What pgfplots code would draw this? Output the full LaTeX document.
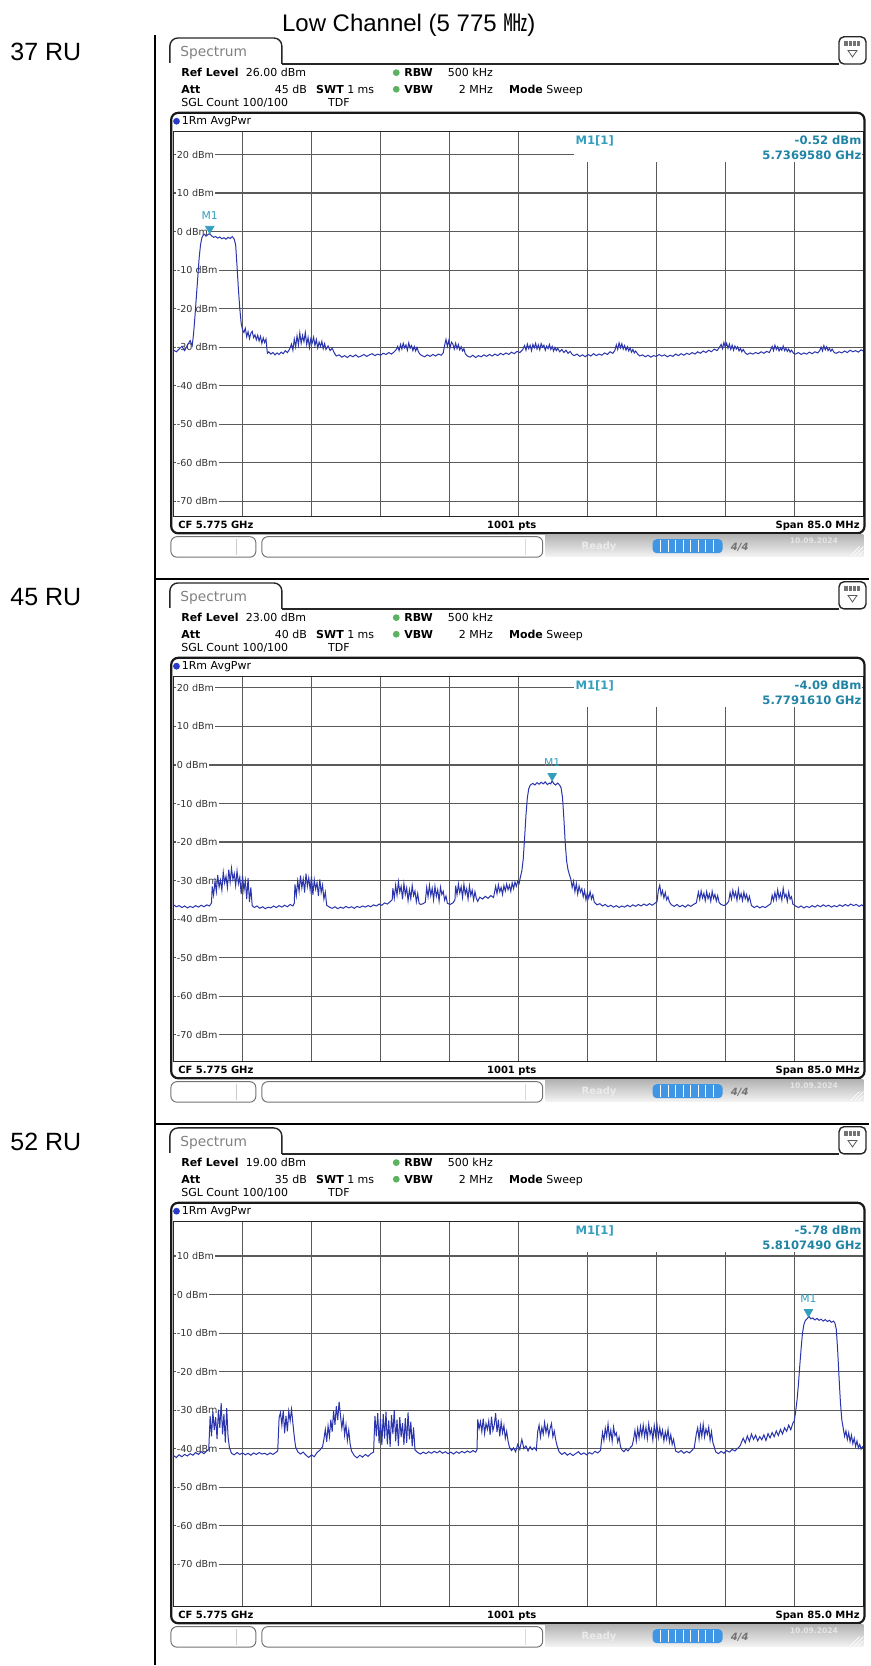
\documentclass[border=0pt]{standalone}
\usepackage{fontspec}
\setmainfont{DejaVu Sans}
\newfontfamily\arial{Liberation Sans}
\newfontfamily\cjk{Noto Sans CJK KR}
\usepackage{pgfplots}
\pgfplotsset{compat=1.18}

\definecolor{trc}{RGB}{42,52,172}
\definecolor{mk}{RGB}{52,158,190}
\definecolor{mkd}{RGB}{32,132,165}
\definecolor{grd}{RGB}{90,90,90}
\definecolor{grn}{RGB}{92,178,96}
\definecolor{pbar}{RGB}{62,150,228}
\definecolor{dotb}{RGB}{40,58,200}

\newcommand\fh{\fontsize{5.5}{6}\selectfont}
\newcommand\fb{\fontsize{5}{6}\selectfont\bfseries}
\newcommand\fm{\fontsize{5.8}{6}\selectfont\bfseries}

\pgfplotsset{
  spec/.style={
    set layers,
    scale only axis, width=345pt, height=192.8pt,
    anchor=south west,
    xmin=0, xmax=1000, xtick={100,200,...,900}, xticklabels={},
    major tick length=0pt,
    grid=major, grid style={grd, line width=0.55pt},
    axis line style={black!85, line width=0.6pt},
    yticklabel style={anchor=west, xshift=0.9pt, fill=white, inner sep=0.5pt,
      font=\fontsize{4.8}{5}\selectfont, text=black!80},
    clip mode=individual,
  },
  trace/.style={trc, line width=0.5pt, no marks},
  mkr/.style={only marks, mark=triangle*, mark size=2.4pt,
    mark options={yshift=2.4pt, rotate=180, fill=mk, draw=mk},
    nodes near coords={M1},
    every node near coord/.style={font=\fontsize{5.4}{5.4}\selectfont, text=mk,
      anchor=south, inner sep=0pt, yshift=4.6pt}},
}

\tikzset{
  hl/.style={anchor=base west, inner sep=0pt, font=\fh},
  hr/.style={anchor=base east, inner sep=0pt, font=\fh},
}

% frame, header and status bar of one analyser screen; #1 = vertical offset in px
\newcommand\decor[5]{%
\begin{scope}[shift={(0,#1)}]
  \draw[black!85, line width=0.7pt, rounded corners=4] (170,63) -- (170,38) -- (282,38) -- (282,64);
  \draw[black!85, line width=0.7pt] (282,64) -- (839.5,64);
  \node[anchor=base west, inner sep=0pt, text=black!50, font=\fontsize{6.9}{7}\selectfont] at (180,56.3) {Spectrum};
  \draw[black!85, line width=0.7pt, rounded corners=2.5] (839.5,36.8) rectangle (866.5,64);
  \fill[black!55] (845,41.5) rectangle (861,46.5);
  \draw[white, line width=0.35pt] (849,41.5) -- (849,46.5) (853,41.5) -- (853,46.5) (857,41.5) -- (857,46.5);
  \draw[black!65, line width=0.4pt] (848.5,50.5) -- (857.5,50.5) -- (853,57) -- cycle;
  \node[hl] at (181,76.5) {\bfseries Ref Level};
  \node[hr] at (306.7,76.5) {#2 dBm};
  \node[hl] at (181,93.3) {\bfseries Att};
  \node[hr] at (307.5,93.3) {#3 dB};
  \node[hl] at (316,93.3) {{\bfseries SWT} 1 ms};
  \fill[grn] (396.5,72.7) circle (3.4);
  \fill[grn] (396.5,89.3) circle (3.4);
  \node[hl] at (404.3,76.5) {\bfseries RBW};
  \node[hr] at (493.5,76.5) {500 kHz};
  \node[hl] at (404.3,93.3) {\bfseries VBW};
  \node[hr] at (493.5,93.3) {2 MHz};
  \node[hl] at (509,93.3) {{\bfseries Mode} Sweep};
  \node[hl] at (181,106.7) {SGL Count 100/100};
  \node[hl] at (328,106.7) {TDF};
  \draw[black!90, line width=1.1pt, rounded corners=3.5] (171.3,112.9) rectangle (865,533.6);
  \fill[dotb] (176.6,121.3) circle (3.4);
  \node[hl] at (181.5,125) {1Rm AvgPwr};
  \node[hl, font=\fb] at (178,529) {CF 5.775 GHz};
  \node[anchor=base, inner sep=0pt, font=\fb] at (512,529) {1001 pts};
  \node[hr, font=\fb] at (860.5,529) {Span 85.0 MHz};
  % status bar
  \draw[black!55, line width=0.5pt, rounded corners=3] (171,537) rectangle (256,557.5);
  \draw[black!20, line width=0.4pt] (237,539.5) -- (237,555);
  \draw[black!55, line width=0.5pt, rounded corners=3] (262,537) rectangle (543,557.5);
  \draw[black!15, line width=0.4pt] (526,539.5) -- (526,555);
  \shade[top color=black!30, bottom color=black!5] (546,534.8) rectangle (864,556.5);
  \node[hl, font=\fb, text=white!92!black] at (581.5,550) {Ready};
  \fill[pbar, rounded corners=2] (653,539.5) rectangle (723,553.5);
  \foreach \k in {661,668.5,676,683.5,691,698.5,706,713.5}
    \draw[white, line width=0.45pt] (\k,540.5) -- (\k,552.5);
  \node[hl, font=\fontsize{5}{5}\selectfont\bfseries\itshape, text=black!55] at (731,550.5) {4/4};
  \node[hl, font=\fontsize{3.8}{4}\selectfont\bfseries, text=white!90!black] at (790,543.5) {10.09.2024};
  \draw[white, line width=0.4pt] (855,556) -- (864,547) (859,556) -- (864,551) (851,556) -- (860,547);
  % marker readout
  \fill[white] (574.6,132.3) rectangle (863,161.7);
  \node[hl, font=\fm, text=mk] at (575.5,144.3) {M1[1]};
  \node[hr, font=\fm, text=mkd] at (862.3,144.3) {#4 dBm};
  \node[hr, font=\fm, text=mkd] at (862.3,159.3) {#5 GHz};
\end{scope}}

\begin{document}
\begin{tikzpicture}[x=0.5pt, y=-0.5pt]
\path (0,0) rectangle (870,1666);

\node[anchor=base, inner sep=0pt, font=\arial\fontsize{12}{14}\selectfont] at (409,31.5) {Low Channel (5 775 {\cjk ㎒})};
\draw[black, line width=1pt] (155.5,35) -- (155.5,1666);
\draw[black, line width=1pt] (155.5,579.3) -- (870,579.3);
\draw[black, line width=1pt] (155.5,1124.6) -- (870,1124.6);
\node[anchor=base west, inner sep=0pt, font=\arial\fontsize{12.5}{14}\selectfont] at (10,60.7) {37 RU};
\node[anchor=base west, inner sep=0pt, font=\arial\fontsize{12.5}{14}\selectfont] at (10,606) {45 RU};
\node[anchor=base west, inner sep=0pt, font=\arial\fontsize{12.5}{14}\selectfont] at (10,1151.3) {52 RU};

% ---------- 37 RU ----------
\begin{axis}[spec, at={(86.85pt,-258.5pt)}, ymin=-74, ymax=26,
  ytick={-70,-60,...,20},
  yticklabels={-70 dBm,-60 dBm,-50 dBm,-40 dBm,-30 dBm,-20 dBm,-10 dBm,0 dBm,10 dBm,20 dBm}]
\addplot[trace] coordinates {
(0,-30.8) (4,-31.2) (8,-30.5) (12,-29.8) (16,-30.9) (20,-29.5) (24,-28.3) (27,-29.6)
(29,-26.5) (31,-22) (33,-17) (35,-12) (37,-7) (39,-3.5) (41,-1.6) (43,-0.9) (45,-0.7)
(47,-1.2) (50,-0.8) (52,-0.52) (55,-1.1) (58,-1.5) (61,-1.3) (64,-1.7) (67,-1.4) (70,-1.9)
(73,-1.6) (76,-2.0) (79,-1.5) (82,-1.8) (85,-1.3) (88,-2.0)
(90,-3.5) (92,-9) (94,-15) (96,-20) (98,-23.8) (100,-25.5)
(102,-26.2) (104,-25.1) (106,-27.3) (108,-26.0) (110,-27.8) (112,-26.4) (114,-25.9) (116,-27.5)
(118,-26.8) (120,-28.1) (122,-26.9) (124,-28.4) (126,-27.2) (128,-29.0) (130,-27.6) (132,-28.8)
(134,-27.9) (136,-31.6) (138,-31.2) (141,-31.8) (144,-31.4) (147,-32.0) (150,-31.5) (153,-31.9)
(156,-31.3) (159,-31.7) (162,-30.9) (165,-31.4) (168,-30.6)
(171,-29.2) (173,-30.8) (175,-27.9) (177,-29.9) (179,-27.1) (181,-29.4) (183,-26.3) (185,-29.0)
(187,-27.0) (189,-28.6) (191,-26.2) (193,-29.3) (195,-27.5) (197,-30.1) (199,-27.8) (201,-28.9)
(203,-27.4) (205,-29.6) (207,-28.0) (209,-30.2) (211,-28.7) (213,-29.8) (215,-28.5) (217,-30.4)
(219,-29.1) (221,-30.6) (224,-29.7) (227,-30.9) (230,-30.3) (233,-31.5)
(236,-32.3) (240,-32.0) (244,-32.6) (248,-32.2) (252,-32.7) (256,-32.1) (260,-32.5) (264,-32.0)
(268,-32.6) (272,-32.3) (276,-31.9) (280,-32.4) (284,-32.0) (288,-31.7) (292,-32.2) (296,-31.8)
(300,-32.1) (304,-31.6) (308,-31.9) (312,-31.4) (316,-31.8) (320,-31.2) (323,-30.6)
(325,-29.8) (327,-30.9) (329,-29.3) (331,-30.5) (333,-29.0) (335,-30.2) (337,-29.4) (339,-30.8)
(341,-28.9) (343,-30.3) (345,-29.6) (347,-30.9) (349,-29.8) (351,-31.0) (353,-30.1) (355,-31.2)
(357,-31.8) (360,-32.2) (364,-32.5) (368,-32.0) (372,-32.4) (376,-31.9) (380,-32.3) (384,-31.8)
(388,-32.1) (391,-31.5)
(393,-29.5) (395,-28.0) (397,-29.8) (399,-28.3) (401,-30.1) (403,-28.7) (405,-29.2) (407,-30.5)
(409,-29.0) (411,-30.4) (413,-29.3) (415,-30.7) (417,-29.9) (419,-31.0) (421,-30.4) (423,-31.7)
(426,-32.3) (430,-32.6) (434,-32.1) (438,-32.7) (442,-32.2) (446,-32.5) (450,-32.0) (454,-32.4)
(458,-31.9) (462,-32.3) (466,-31.8) (470,-32.2) (474,-31.6) (478,-32.0) (482,-31.5) (486,-31.9)
(490,-31.3) (494,-31.7) (498,-31.1) (502,-31.4) (506,-30.7)
(509,-29.6) (511,-30.8) (513,-29.2) (515,-30.4) (517,-29.5) (519,-30.9) (521,-29.3) (523,-30.2)
(525,-29.0) (527,-30.5) (529,-29.4) (531,-30.7) (533,-29.1) (535,-30.0) (537,-29.5) (539,-30.8)
(541,-29.7) (543,-30.4) (545,-29.3) (547,-30.6) (549,-29.8) (551,-31.0) (553,-30.1) (555,-30.9)
(557,-30.3) (560,-31.2) (563,-30.6) (566,-31.4) (569,-30.8) (572,-31.6) (575,-31.1) (578,-31.9)
(581,-32.2) (585,-31.8) (589,-32.4) (593,-32.0) (597,-32.5) (601,-31.9) (605,-32.3) (609,-31.7)
(613,-32.2) (617,-31.8) (621,-32.1) (625,-31.5) (629,-31.9) (633,-31.2) (637,-31.6) (640,-30.8)
(642,-29.4) (644,-30.6) (646,-28.9) (648,-30.2) (650,-29.1) (652,-30.5) (654,-29.6) (656,-30.8)
(658,-29.9) (660,-31.0) (662,-30.2) (664,-31.3) (666,-30.6) (668,-31.5) (670,-31.0) (673,-31.8)
(676,-32.3) (680,-32.0) (684,-32.5) (688,-32.1) (692,-32.6) (696,-32.2) (700,-32.4) (704,-31.9)
(708,-32.3) (712,-32.0) (716,-32.5) (720,-32.1) (724,-32.4) (728,-31.8) (732,-32.2) (736,-31.7)
(740,-32.1) (744,-31.6) (748,-31.9) (752,-31.4) (756,-31.8) (760,-31.2) (764,-31.6) (768,-31.0)
(772,-31.4) (776,-30.8) (780,-31.2) (784,-30.5) (788,-30.9) (791,-30.2)
(794,-29.3) (796,-30.4) (798,-28.8) (800,-30.0) (802,-29.0) (804,-30.3) (806,-29.2) (808,-30.6)
(810,-29.5) (812,-30.8) (814,-29.7) (816,-30.5) (818,-29.9) (820,-31.0) (822,-30.3) (824,-31.2)
(826,-30.6) (829,-31.5) (832,-31.9) (836,-31.5) (840,-31.8) (844,-31.4) (848,-31.7) (852,-31.2)
(856,-31.6) (860,-31.1) (864,-31.4) (866,-30.6)
(868,-29.8) (870,-30.9) (872,-29.5) (874,-30.6) (876,-29.9) (878,-31.0) (880,-30.2) (882,-30.8)
(884,-29.7) (886,-30.9) (888,-30.3) (890,-31.1) (892,-30.5) (894,-31.3) (896,-30.8) (899,-31.6)
(902,-31.8) (906,-31.4) (910,-31.9) (914,-31.5) (918,-31.8) (922,-31.3) (926,-31.7) (930,-31.2)
(934,-31.5) (937,-30.9) (939,-30.0) (941,-31.0) (943,-29.6) (945,-30.7) (947,-29.9) (949,-30.9)
(951,-30.3) (953,-31.1) (955,-30.5) (958,-31.4) (961,-31.6) (965,-31.2) (969,-31.5) (973,-31.0)
(977,-31.4) (981,-30.8) (985,-31.2) (989,-30.9) (993,-31.3) (997,-30.7) (1000,-31.0)
};
\addplot[mkr] coordinates {(52.4,-0.52)};
\end{axis}
\decor{0}{26.00}{45}{-0.52}{5.7369580}

% ---------- 45 RU ----------
\begin{axis}[spec, at={(86.85pt,-531.15pt)}, ymin=-77, ymax=23,
  ytick={-70,-60,...,20},
  yticklabels={-70 dBm,-60 dBm,-50 dBm,-40 dBm,-30 dBm,-20 dBm,-10 dBm,0 dBm,10 dBm,20 dBm}]
\addplot[trace] coordinates {
(0,-36.3) (4,-36.8) (8,-36.5) (12,-37.0) (16,-36.6) (20,-37.1) (24,-36.7) (28,-37.0) (32,-36.5)
(36,-36.9) (40,-36.4) (44,-36.8) (48,-36.3) (52,-36.6) (55,-35.8)
(56,-31.5) (58,-33.8) (60,-30.2) (62,-32.9) (64,-28.6) (66,-31.7) (68,-29.9) (70,-32.5) (72,-27.8)
(74,-30.6) (76,-28.9) (78,-31.8) (80,-27.2) (82,-30.4) (84,-26.8) (86,-29.7) (88,-28.2) (90,-31.3)
(92,-27.5) (94,-30.8) (96,-29.1) (98,-33.5) (100,-28.7) (102,-32.6) (104,-30.0) (106,-34.8)
(108,-29.4) (110,-35.6) (112,-31.8) (114,-36.5)
(117,-37.0) (121,-36.6) (125,-37.2) (129,-36.8) (133,-37.3) (137,-36.9) (141,-37.1) (145,-36.6)
(149,-37.0) (153,-36.5) (157,-36.9) (161,-36.4) (165,-36.8) (169,-36.2) (173,-36.6) (175,-35.9)
(176,-31.0) (178,-33.9) (180,-30.1) (182,-32.8) (184,-28.7) (186,-31.9) (188,-29.6) (190,-33.1)
(192,-28.2) (194,-31.5) (196,-29.3) (198,-32.4) (200,-28.9) (202,-33.7) (204,-29.8) (206,-32.2)
(208,-30.5) (210,-34.0) (212,-29.7) (214,-33.1) (216,-31.2) (218,-34.8) (220,-33.0) (222,-36.4)
(226,-36.9) (230,-37.2) (234,-36.8) (238,-37.3) (242,-36.9) (246,-37.2) (250,-36.7) (254,-37.1)
(258,-36.8) (262,-37.2) (266,-36.7) (270,-37.0) (274,-36.6) (278,-36.9) (282,-36.5) (286,-36.8)
(290,-36.3) (294,-36.6) (298,-36.1) (302,-36.4) (306,-35.8) (310,-36.1) (314,-35.5) (317,-35.0)
(318,-32.0) (320,-34.6) (322,-31.2) (324,-33.8) (326,-30.3) (328,-33.0) (330,-31.5) (332,-34.9)
(334,-30.8) (336,-33.6) (338,-31.9) (340,-35.2) (342,-32.4) (344,-34.7) (346,-31.3) (348,-33.9)
(350,-32.7) (352,-35.5) (354,-33.4) (356,-35.9) (358,-36.2) (362,-36.0) (365,-35.6)
(367,-31.8) (369,-34.2) (371,-31.2) (373,-33.9) (375,-32.0) (377,-35.0) (379,-31.5) (381,-34.1)
(383,-32.4) (385,-35.3) (387,-31.7) (389,-33.6) (391,-32.8) (393,-35.1) (395,-34.0)
(397,-35.9) (401,-36.2) (405,-35.8) (408,-35.0)
(409,-31.3) (411,-33.7) (413,-30.9) (415,-33.2) (417,-31.6) (419,-34.4) (421,-31.0) (423,-33.5)
(425,-32.1) (427,-34.8) (429,-31.4) (431,-33.9) (433,-32.5) (435,-35.0) (437,-32.9) (439,-34.6)
(441,-35.4) (444,-34.3) (448,-34.8) (452,-34.1) (456,-34.6) (460,-33.9) (464,-34.4)
(467,-31.5) (469,-33.4) (471,-31.1) (473,-32.9) (475,-31.8) (477,-33.6) (479,-31.3) (481,-32.7)
(483,-30.9) (485,-32.4) (487,-31.2) (489,-32.8) (491,-30.6) (493,-32.1) (495,-30.4) (497,-31.5)
(499,-30.2) (501,-30.8) (503,-29.0) (505,-27.5) (507,-24.5) (509,-19) (511,-13) (513,-8.5)
(515,-6.2) (517,-5.3) (519,-5.0)
(521,-4.8) (524,-5.2) (527,-4.6) (530,-5.0) (533,-4.5) (536,-4.9) (539,-4.4) (542,-5.1) (545,-4.7)
(547,-4.9) (549,-4.09) (551,-4.8) (554,-5.2) (557,-4.7) (560,-5.3)
(562,-6.0) (564,-8.5) (566,-14) (568,-20.5) (570,-25.0) (572,-27.2) (574,-28.5)
(576,-29.6) (578,-31.8) (580,-30.2) (582,-32.9) (584,-30.8) (586,-33.5) (588,-31.4) (590,-33.0)
(592,-32.1) (594,-34.2) (596,-32.6) (598,-35.0) (600,-33.2) (602,-34.6) (604,-32.9) (606,-34.8)
(608,-33.7) (610,-35.6) (614,-36.3) (618,-36.0) (622,-36.6) (626,-36.2) (630,-36.8) (634,-36.4)
(638,-36.9) (642,-36.5) (646,-37.0) (650,-36.6) (654,-36.9) (658,-36.4) (662,-36.8) (666,-36.3)
(670,-36.7) (674,-36.2) (678,-36.6) (682,-36.1) (686,-36.5) (690,-36.0) (694,-36.4) (698,-35.9)
(701,-35.5) (703,-32.5) (705,-31.2) (707,-33.8) (709,-32.6) (711,-34.5) (713,-33.1) (715,-35.0)
(717,-34.2) (719,-35.6) (722,-36.3) (726,-36.7) (730,-36.2) (734,-36.8) (738,-36.4) (742,-36.9)
(746,-36.3) (750,-36.7) (754,-36.2) (758,-35.8)
(761,-33.0) (763,-34.9) (765,-32.7) (767,-34.5) (769,-33.3) (771,-35.2) (773,-32.9) (775,-34.7)
(777,-33.5) (779,-35.4) (781,-32.8) (783,-34.6) (785,-33.6) (787,-35.3) (789,-33.9) (791,-35.7)
(794,-36.2) (798,-36.5) (802,-36.1) (805,-35.4)
(807,-33.1) (809,-34.8) (811,-32.5) (813,-34.3) (815,-33.0) (817,-35.1) (819,-32.3) (821,-34.6)
(823,-33.4) (825,-35.2) (827,-33.0) (829,-34.7) (831,-33.6) (833,-35.4) (835,-34.1)
(838,-36.5) (842,-37.0) (846,-36.6) (850,-37.1) (854,-36.7) (858,-37.0) (862,-36.5) (866,-36.0)
(868,-33.8) (870,-35.2) (872,-33.1) (874,-34.9) (876,-32.4) (878,-34.6) (880,-33.3) (882,-35.1)
(884,-32.0) (886,-34.3) (888,-33.5) (890,-35.4) (892,-33.0) (894,-34.8) (896,-34.2)
(898,-36.1) (902,-36.6) (906,-37.0) (910,-36.6) (914,-37.1) (918,-36.7) (922,-37.0) (926,-36.5)
(930,-36.9) (934,-36.4) (938,-36.8) (942,-36.3) (946,-36.7) (950,-36.4) (954,-36.9) (958,-36.5)
(962,-36.8) (966,-36.3) (970,-36.7) (974,-36.2) (978,-36.6) (982,-36.1) (986,-36.5) (990,-36.2)
(994,-36.7) (998,-36.3) (1000,-36.6)
};
\addplot[mkr] coordinates {(549,-4.09)};
\end{axis}
\decor{545.3}{23.00}{40}{-4.09}{5.7791610}

% ---------- 52 RU ----------
\begin{axis}[spec, at={(86.85pt,-803.8pt)}, ymin=-81, ymax=19,
  ytick={-70,-60,...,10},
  yticklabels={-70 dBm,-60 dBm,-50 dBm,-40 dBm,-30 dBm,-20 dBm,-10 dBm,0 dBm,10 dBm}]
\addplot[trace] coordinates {
(0,-41.8) (4,-42.3) (8,-41.6) (12,-42.1) (16,-41.5) (20,-41.9) (24,-41.3) (28,-41.7) (32,-41.0)
(36,-41.5) (40,-40.8) (44,-41.3) (48,-40.6) (51,-40.2)
(53,-31.5) (55,-36.8) (57,-30.4) (59,-35.2) (61,-31.8) (63,-37.5) (65,-29.9) (67,-34.6) (69,-28.2)
(71,-36.3) (73,-31.0) (75,-38.4) (77,-29.5) (79,-36.9) (81,-39.8)
(84,-41.2) (88,-41.6) (92,-41.0) (96,-41.5) (100,-41.1) (104,-41.6) (108,-41.2) (112,-41.7)
(116,-41.1) (120,-41.5) (124,-41.0) (128,-41.4) (132,-41.2) (136,-41.6) (140,-41.1) (144,-41.5)
(148,-41.0) (151,-40.6)
(153,-32.0) (155,-30.6) (157,-33.9) (159,-30.1) (161,-36.0) (163,-31.5) (165,-35.5) (167,-30.3)
(169,-32.8) (171,-29.8) (173,-33.4) (175,-36.9) (177,-39.6)
(180,-40.8) (184,-41.4) (188,-40.9) (192,-41.7) (196,-42.3) (200,-41.6) (204,-42.1) (208,-41.0)
(212,-40.4) (216,-39.5)
(218,-37.5) (220,-35.0) (222,-38.2) (224,-34.1) (226,-36.9) (228,-32.5) (230,-35.6) (232,-30.2)
(234,-33.8) (236,-29.0) (238,-32.6) (240,-27.8) (242,-31.4) (244,-34.7) (246,-32.0) (248,-36.5)
(250,-33.8) (252,-37.9) (254,-35.2) (256,-38.8)
(258,-40.6) (262,-41.8) (266,-42.4) (270,-41.7) (274,-42.2) (278,-41.5) (282,-42.0) (286,-41.3)
(290,-40.9)
(292,-31.5) (294,-36.8) (296,-30.8) (298,-38.6) (300,-32.2) (302,-39.1) (304,-31.0) (306,-37.4)
(308,-30.4) (310,-38.9) (312,-32.7) (314,-39.5) (316,-31.3) (318,-36.2) (320,-30.0) (322,-38.1)
(324,-32.5) (326,-39.3) (328,-31.8) (330,-37.0) (332,-33.4) (334,-39.0) (336,-32.1) (338,-38.5)
(340,-30.6) (342,-37.6) (344,-33.0) (346,-39.4) (348,-34.5) (350,-40.3)
(354,-41.0) (358,-41.4) (362,-40.9) (366,-41.3) (370,-40.8) (374,-41.2) (378,-40.7) (382,-41.1)
(386,-40.6) (390,-41.2) (394,-40.8) (398,-41.3) (402,-40.9) (406,-41.4) (410,-40.8) (414,-41.2)
(418,-40.7) (422,-41.1) (426,-40.6) (430,-41.0) (434,-40.5) (438,-40.9) (440,-40.2)
(441,-32.4) (443,-34.8) (445,-33.0) (447,-35.6) (449,-32.2) (451,-36.1) (453,-33.5) (455,-35.0)
(457,-32.8) (459,-36.4) (461,-31.7) (463,-35.3) (465,-33.9) (467,-30.8) (469,-35.7) (471,-32.5)
(473,-36.8) (475,-33.1) (477,-35.9) (479,-34.0) (481,-37.3) (483,-35.5) (485,-38.0)
(487,-39.6) (490,-40.5) (493,-39.8) (496,-40.8) (499,-38.9) (502,-40.2) (505,-37.6) (508,-40.0)
(511,-39.3) (514,-40.6) (517,-39.5) (520,-40.3) (523,-39.7) (526,-40.4)
(528,-35.6) (530,-33.9) (532,-37.0) (534,-34.5) (536,-36.2) (538,-33.2) (540,-35.8) (542,-34.0)
(544,-36.6) (546,-34.8) (548,-33.5) (550,-36.9) (552,-35.4) (554,-37.6) (556,-39.2)
(559,-40.8) (563,-41.5) (567,-41.0) (571,-41.7) (575,-41.2) (579,-41.8) (583,-41.3) (587,-40.8)
(591,-41.5) (595,-41.1) (599,-41.6) (603,-41.0) (607,-41.4) (611,-40.7) (615,-41.1) (619,-40.5)
(622,-35.8) (624,-37.9) (626,-34.7) (628,-36.8) (630,-33.6) (632,-37.4) (634,-35.2) (636,-38.1)
(638,-34.4) (640,-36.6) (642,-35.9) (644,-38.3) (646,-37.0) (648,-39.4)
(650,-40.3) (653,-40.8) (656,-40.1) (659,-40.6) (662,-39.8) (665,-39.2)
(667,-37.6) (669,-35.3) (671,-38.0) (673,-34.8) (675,-37.2) (677,-34.2) (679,-36.6) (681,-33.9)
(683,-36.9) (685,-34.5) (687,-37.4) (689,-33.6) (691,-36.3) (693,-34.9) (695,-37.8) (697,-34.0)
(699,-36.5) (701,-33.8) (703,-37.1) (705,-34.6) (707,-36.9) (709,-35.2) (711,-38.0) (713,-35.7)
(715,-37.5) (717,-35.0) (719,-38.3) (721,-36.4) (723,-38.9) (725,-37.6)
(728,-40.6) (732,-41.0) (736,-40.5) (740,-41.2) (744,-40.7) (748,-41.1) (752,-40.4) (755,-39.8)
(758,-36.2) (760,-34.6) (762,-37.5) (764,-34.1) (766,-36.8) (768,-33.7) (770,-37.0) (772,-34.9)
(774,-36.3) (776,-34.4) (778,-37.8) (780,-35.6) (782,-38.4) (784,-39.5)
(786,-40.8) (790,-41.3) (794,-40.7) (798,-41.2) (802,-40.5) (806,-40.9) (810,-40.2) (814,-40.6)
(818,-39.9) (821,-39.4)
(823,-38.6) (826,-37.3) (829,-38.5) (832,-36.7) (835,-38.1) (838,-36.2) (841,-37.6) (844,-36.5)
(847,-38.0) (850,-36.9) (853,-37.7) (856,-36.4) (859,-37.9) (862,-36.1) (865,-37.2) (868,-35.8)
(871,-36.9) (874,-35.4) (877,-36.6) (880,-35.0) (883,-36.2) (886,-34.6) (889,-35.5) (892,-33.9)
(895,-35.1) (898,-33.4) (900,-32.8)
(902,-30.5) (904,-27.5) (906,-23.5) (908,-18.6) (910,-14) (912,-10) (914,-7.8) (916,-6.8)
(918,-6.4) (920,-6.0) (922,-5.78) (924,-6.3) (927,-6.1) (930,-6.6) (933,-6.2) (936,-6.7)
(939,-6.4) (942,-6.9) (945,-6.5) (948,-7.0) (951,-6.7) (954,-7.2) (957,-6.9) (959,-7.4)
(961,-9.0) (963,-14.5) (965,-21.5) (967,-28.0) (969,-32.5) (971,-34.6)
(973,-36.8) (975,-35.4) (977,-37.6) (979,-35.9) (981,-38.2) (983,-36.5) (985,-38.7) (987,-37.3)
(989,-39.4) (991,-38.0) (993,-39.8) (995,-38.9) (997,-40.1) (999,-39.5) (1000,-39.7)
};
\addplot[mkr] coordinates {(920.6,-5.78)};
\end{axis}
\decor{1090.6}{19.00}{35}{-5.78}{5.8107490}

\end{tikzpicture}
\end{document}
